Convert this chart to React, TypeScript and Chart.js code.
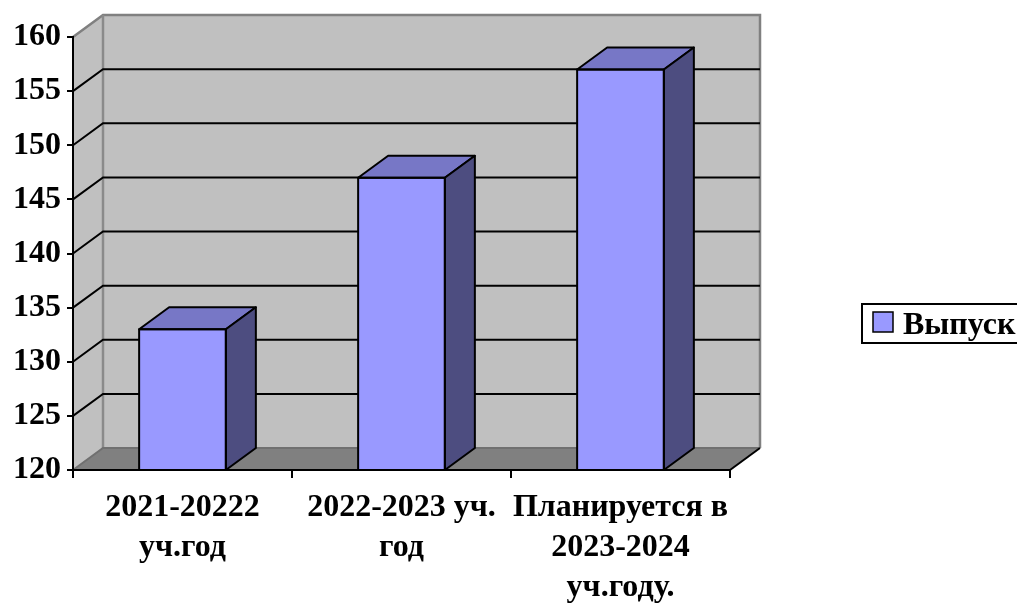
import React, { useEffect, useRef } from "react";
import { Chart, registerables } from "chart.js";

Chart.register(...registerables);

const categories: string[][] = [
  ["2021-20222", "уч.год"],
  ["2022-2023 уч.", "год"],
  ["Планируется в", "2023-2024", "уч.году."],
];
const seriesLabel = "Выпуск";
const values: number[] = [133, 147, 157];
const yMin = 120;
const yMax = 160;
const yStep = 5;

const DX = 30;
const DY = -22;
const FONT_FAMILY = "'Liberation Serif', 'Times New Roman', serif";
const FRONT = "#9999ff";
const TOP = "#7777c6";
const SIDE = "#4d4d80";

function poly(ctx: CanvasRenderingContext2D, pts: number[][], fill: string | null, stroke?: string, lw?: number) {
  ctx.beginPath();
  ctx.moveTo(pts[0][0], pts[0][1]);
  for (let i = 1; i < pts.length; i++) ctx.lineTo(pts[i][0], pts[i][1]);
  ctx.closePath();
  if (fill) {
    ctx.fillStyle = fill;
    ctx.fill();
  }
  if (stroke) {
    ctx.strokeStyle = stroke;
    ctx.lineWidth = lw || 1;
    ctx.stroke();
  }
}

function line(ctx: CanvasRenderingContext2D, pts: number[][], color: string, lw: number) {
  ctx.beginPath();
  ctx.moveTo(pts[0][0], pts[0][1]);
  for (let i = 1; i < pts.length; i++) ctx.lineTo(pts[i][0], pts[i][1]);
  ctx.strokeStyle = color;
  ctx.lineWidth = lw;
  ctx.stroke();
}

const threeD = {
  id: "threeD",
  beforeDraw(chart: any) {
    const { ctx, chartArea } = chart;
    const { left, right, top, bottom } = chartArea;
    const y = chart.scales.y;
    ctx.save();
    ctx.fillStyle = "#c0c0c0";
    ctx.fillRect(left + DX, top + DY, right - left, bottom - top);
    poly(ctx, [[left, top], [left + DX, top + DY], [left + DX, bottom + DY], [left, bottom]], "#c0c0c0");
    poly(ctx, [[left, bottom], [left + DX, bottom + DY], [right + DX, bottom + DY], [right, bottom]], "#808080");
    ctx.lineJoin = "miter";
    line(ctx, [[left, top], [left + DX, top + DY], [right + DX, top + DY], [right + DX, bottom + DY]], "#808080", 2.5);
    line(ctx, [[left + DX, top + DY], [left + DX, bottom + DY]], "#8a8a8a", 2.5);
    line(ctx, [[left, bottom], [left + DX, bottom + DY], [right + DX, bottom + DY]], "#707070", 2);
    for (let v = yMin + yStep; v < yMax; v += yStep) {
      const py = y.getPixelForValue(v);
      line(ctx, [[left, py], [left + DX, py + DY], [right + DX, py + DY]], "#000", 2);
    }
    line(ctx, [[right, bottom], [right + DX, bottom + DY]], "#000", 2);
    ctx.restore();
  },
  afterDatasetsDraw(chart: any) {
    const { ctx, chartArea } = chart;
    const meta = chart.getDatasetMeta(0);
    const base = chartArea.bottom;
    ctx.save();
    ctx.lineJoin = "round";
    meta.data.forEach((bar: any) => {
      const { x, y, width } = bar.getProps(["x", "y", "width"], true);
      const x1 = x - width / 2;
      const x2 = x + width / 2;
      poly(ctx, [[x1, y], [x1 + DX, y + DY], [x2 + DX, y + DY], [x2, y]], TOP, "#000", 2);
      poly(ctx, [[x2, y], [x2 + DX, y + DY], [x2 + DX, base + DY], [x2, base]], SIDE, "#000", 2);
      ctx.strokeStyle = "#000";
      ctx.lineWidth = 2;
      ctx.strokeRect(x1, y, width, base - y);
    });
    ctx.restore();
  },
  afterDraw(chart: any) {
    const { ctx } = chart;
    ctx.save();
    ctx.fillStyle = "#fff";
    ctx.fillRect(862, 304, 170, 39);
    ctx.strokeStyle = "#000";
    ctx.lineWidth = 2;
    ctx.strokeRect(862, 304, 170, 39);
    ctx.fillStyle = FRONT;
    ctx.fillRect(873, 312, 20, 20);
    ctx.lineWidth = 1.5;
    ctx.strokeRect(873, 312, 20, 20);
    ctx.fillStyle = "#000";
    ctx.font = `bold 32px ${FONT_FAMILY}`;
    ctx.textBaseline = "alphabetic";
    ctx.textAlign = "left";
    ctx.fillText(chart.data.datasets[0].label, 903, 334);
    ctx.restore();
  },
};

export default function App() {
  const ref = useRef<HTMLCanvasElement | null>(null);
  useEffect(() => {
    if (!ref.current) return;
    const chart = new Chart(ref.current, {
      type: "bar",
      data: {
        labels: categories,
        datasets: [
          {
            label: seriesLabel,
            data: values,
            backgroundColor: FRONT,
            borderColor: "#000",
            borderWidth: 0,
            categoryPercentage: 1,
            barPercentage: 0.396,
            base: yMin,
          },
        ],
      },
      options: {
        animation: false,
        responsive: true,
        maintainAspectRatio: false,
        layout: { padding: { top: 37, right: 287, left: 0, bottom: 0 } },
        plugins: {
          legend: { display: false },
          tooltip: { enabled: false },
        },
        scales: {
          x: {
            offset: true,
            afterFit: (s: any) => {
              s.height = 133;
            },
            grid: {
              offset: true,
              drawOnChartArea: false,
              drawTicks: true,
              tickLength: 8,
              color: "#000",
              lineWidth: 2,
            },
            border: { display: true, color: "#000", width: 2 },
            ticks: {
              color: "#000",
              font: { family: FONT_FAMILY, size: 32, weight: "bold", lineHeight: 1.25 },
              padding: 10,
              maxRotation: 0,
              autoSkip: false,
            },
          },
          y: {
            min: yMin,
            max: yMax,
            afterFit: (s: any) => {
              s.width = 73;
            },
            grid: {
              drawOnChartArea: false,
              drawTicks: true,
              tickLength: 6,
              color: "#000",
              lineWidth: 2,
            },
            border: { display: true, color: "#000", width: 2 },
            ticks: {
              stepSize: yStep,
              color: "#000",
              font: { family: FONT_FAMILY, size: 32, weight: "bold" },
              padding: 6,
            },
          },
        },
      },
      plugins: [threeD],
    } as any);
    return () => chart.destroy();
  }, []);
  return (
    <div style={{ position: "absolute", left: 0, top: 0, width: 1017, height: 603, background: "#fff" }}>
      <canvas ref={ref} />
    </div>
  );
}
